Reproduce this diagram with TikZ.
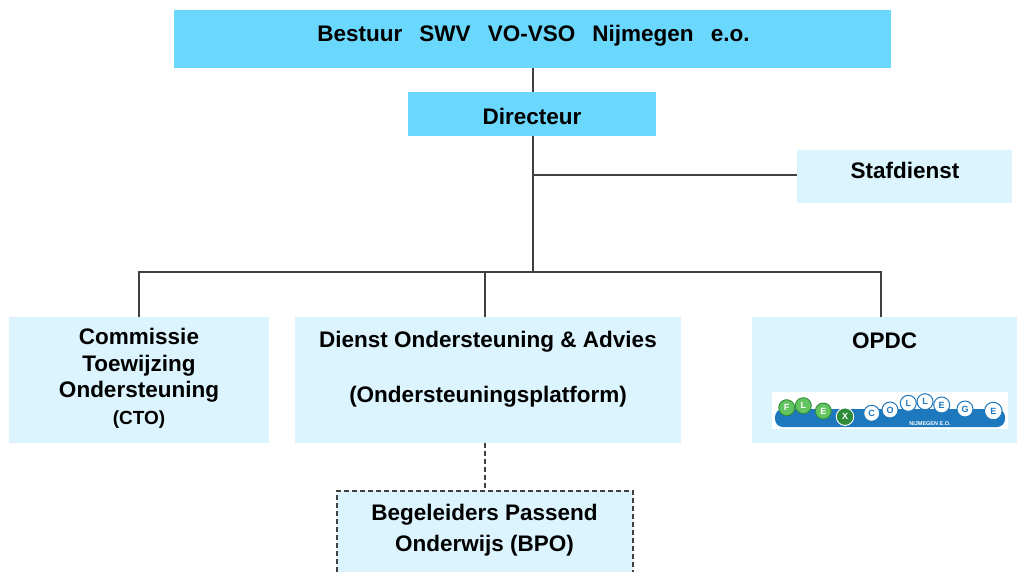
\documentclass[tikz,border=0pt]{standalone}
\usepackage{fontspec}
\setmainfont{Liberation Sans}
\definecolor{dark}{HTML}{6AD7FD}
\definecolor{light}{HTML}{DCF4FE}
\definecolor{ln}{HTML}{404040}
\definecolor{logoblue}{HTML}{1E78BE}
\definecolor{logogreen}{HTML}{62C45E}
\definecolor{logodkgreen}{HTML}{2E8B3A}
\begin{document}
\begin{tikzpicture}[x=1pt,y=-1pt,
  font=\fontsize{22.5}{26.5}\selectfont\bfseries,
  box/.style={rectangle, inner sep=0pt, draw=none},
  hi/.style={box, fill=dark},
  lo/.style={box, fill=light},
  conn/.style={draw=ln, line width=1.6pt},
  txt/.style={inner sep=0pt, align=center, anchor=base},
  gball/.style={circle, draw=logodkgreen, fill=logogreen, line width=0.9pt, inner sep=0pt, minimum size=16pt, font=\fontsize{9}{9}\selectfont\bfseries, text=white},
  xball/.style={gball, fill=logodkgreen, draw=white, minimum size=17.5pt},
  bball/.style={circle, draw=logoblue, fill=white, line width=1pt, inner sep=0pt, minimum size=16pt, font=\fontsize{9}{9}\selectfont\bfseries, text=logoblue}]
\useasboundingbox (0,0) rectangle (1018,571);
\fill[white] (0,0) rectangle (1018,571);

% boxes
\node[hi, minimum width=717pt, minimum height=58pt] (top) at (532.5,39) {};
\node[txt] (toptext) at (533.5,41.5) {Bestuur\hspace{0.76em}SWV\hspace{0.76em}VO-VSO\hspace{0.76em}Nijmegen\hspace{0.76em}e.o.};

\node[hi, minimum width=248pt, minimum height=44pt] (dir) at (532,114) {};
\node[txt] (dirtext) at (532,124) {Directeur};

\node[lo, minimum width=215pt, minimum height=53pt] (staf) at (904.5,176.5) {};
\node[txt] (staftext) at (905,178) {Stafdienst};

\node[lo, minimum width=260pt, minimum height=126pt] (cto) at (139,380) {};
\node[txt] (ctotext) at (139,424) {Commissie\\Toewijzing\\Ondersteuning\\{\fontsize{19}{19}\selectfont (CTO)}};

\node[lo, minimum width=386pt, minimum height=126pt] (doa) at (488,380) {};
\node[txt] (doatext) at (488,402) {Dienst Ondersteuning \& Advies\\[28.5pt](Ondersteuningsplatform)};

\node[lo, minimum width=265pt, minimum height=126pt] (opdc) at (884.5,380) {};
\node[txt] (opdctext) at (884.5,348) {OPDC};

\node[lo, draw=ln, dashed, dash pattern=on 5pt off 3pt, line width=1.3pt, minimum width=296pt, minimum height=100pt] (bpo) at (485,541) {};
\node[txt] (bpotext) at (484.5,551.5) {Begeleiders Passend\\[5pt]Onderwijs (BPO)};

% connectors
\coordinate (bus) at (533,272);
\coordinate (busr) at (881,272);
\coordinate (stafin) at ([yshift=1.5pt]staf.west);
\draw[conn] (bus |- top.south) -- (bus |- dir.north);
\draw[conn] (bus |- dir.south) -- (bus);
\draw[conn] (bus |- stafin) -- (stafin);
\draw[conn] (cto.north) -- (cto.north |- bus) -- (busr) -- (busr |- opdc.north);
\draw[conn] (bpo.north |- bus) -- (bpo.north |- doa.north);
\draw[draw=ln, line width=1.3pt, dash pattern=on 5pt off 3pt] (bpo.north |- doa.south) -- (bpo.north);

% logo
\fill[white] (772,392) rectangle (1008,429);
\fill[logoblue, rounded corners=8pt] (775,409) rectangle (1005,427);
\node[gball] (lf) at (786.7,407.7) {F};
\node[gball] (ll) at (803.3,405.7) {L};
\node[gball] (le) at (823.3,411) {E};
\node[xball] (lx) at (845,416.7) {X};
\node[bball] (lc) at (871.7,413.3) {C};
\node[bball] (lo1) at (890,410) {O};
\node[bball] (ll1) at (908.3,403.3) {L};
\node[bball] (ll2) at (925,401.7) {L};
\node[bball] (le1) at (941.7,405) {E};
\node[bball] (lg) at (965,409) {G};
\node[bball, minimum size=17.5pt] (le2) at (993.3,411) {E};
\node[inner sep=0pt, text=white, font=\fontsize{5.5}{5.5}\selectfont\bfseries] (nijm) at (930,423.5) {NIJMEGEN E.O.};
\end{tikzpicture}
\end{document}
